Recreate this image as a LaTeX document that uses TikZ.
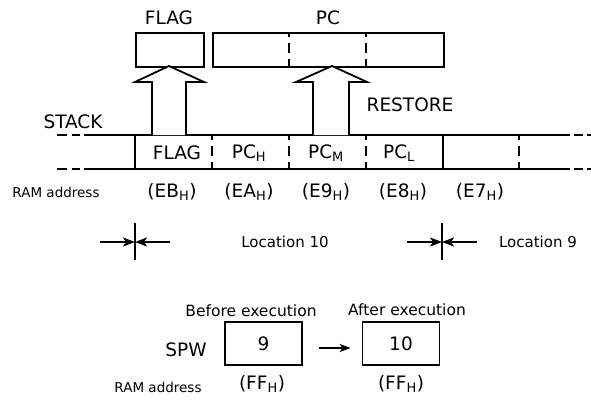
\documentclass[tikz,border=0pt]{standalone}
\usepackage{fontspec}
\setmainfont{DejaVu Sans}
\usetikzlibrary{arrows.meta}
\begin{document}
\begin{tikzpicture}[x=1pt,y=-1pt, line width=1.8pt,
  big/.style={font=\fontsize{18.5}{18.5}\selectfont, inner sep=0pt},
  small/.style={font=\fontsize{15}{15}\selectfont, inner sep=0pt},
  reg/.style={draw, minimum height=34pt, inner sep=0pt, anchor=north west},
  spbox/.style={draw, minimum width=77pt, minimum height=43pt, inner sep=0pt, font=\fontsize{18.5}{18.5}\selectfont},
  dsh/.style={dash pattern=on 5pt off 6pt on 10pt off 6pt on 7pt},
  tip/.style={-{Stealth[length=12pt,width=9pt,inset=3pt]}},
  hollow/.style={fill=white, line join=miter}]
\useasboundingbox (0,0) rectangle (591,399);

% registers
\node[big] (flaglbl) at (169,18) {FLAG};
\node[big] (pclbl) at (328,18) {PC};
\node[reg, minimum width=68pt] (flagreg) at (135,32) {};
\node[reg, minimum width=231pt] (pcreg) at (212,32) {};
\draw[dsh] (289,32) -- (289,66);
\draw[dsh] (366,32) -- (366,66);

% stack
\node[big] (stack) at (73,122) {STACK};
\draw (84,135) -- (570,135);
\draw (84,169) -- (570,169);
\draw (57,135) -- (67,135) (72,135) -- (80,135);
\draw (57,169) -- (67,169) (72,169) -- (80,169);
\draw (574,135) -- (583,135) (587,135) -- (591,135);
\draw (574,169) -- (583,169) (587,169) -- (591,169);
\draw (135,135) -- (135,169);
\draw (443,135) -- (443,169);
\foreach \x in {212,289,366,519} \draw[dsh] (\x,135) -- (\x,169);

\node[big] (cflag) at (177,153) {FLAG};
\node[big] (cpch) at (249,153) {PC\textsubscript{H}};
\node[big] (cpcm) at (326,153) {PC\textsubscript{M}};
\node[big] (cpcl) at (399,153) {PC\textsubscript{L}};

% hollow arrows
\draw[hollow] (152,135) -- (152,82) -- (135,82) -- (169,66) -- (204,82) -- (186,82) -- (186,135);
\draw[hollow] (313,135) -- (313,82) -- (296,82) -- (332,66) -- (367,82) -- (349,82) -- (349,135);
\node[big] (restore) at (410,105) {RESTORE};

% RAM addresses
\node[small, font=\fontsize{13.5}{13.5}\selectfont] (ram1) at (56,192) {RAM address};
\node[big] (aeb) at (172,192) {(EB\textsubscript{H})};
\node[big] (aea) at (249,192) {(EA\textsubscript{H})};
\node[big] (ae9) at (326,192) {(E9\textsubscript{H})};
\node[big] (ae8) at (403,192) {(E8\textsubscript{H})};
\node[big] (ae7) at (480,192) {(E7\textsubscript{H})};

% location markers
\coordinate (m10) at (135,242);
\coordinate (m10t) at (135,223);
\coordinate (m10b) at (135,260);
\coordinate (m10l) at (100,242);
\coordinate (m10r) at (170,242);
\draw (m10t) -- (m10b);
\draw[tip] (m10l) -- (m10);
\draw[tip] (m10r) -- (m10);
\node[small] (loc10) at (285,242) {Location 10};

\coordinate (m9) at (442,242);
\coordinate (m9t) at (442,223);
\coordinate (m9b) at (442,260);
\coordinate (m9l) at (407,242);
\coordinate (m9r) at (477,242);
\draw (m9t) -- (m9b);
\draw[tip] (m9l) -- (m9);
\draw[tip] (m9r) -- (m9);
\node[small] (loc9) at (538,242) {Location 9};

% SPW
\node[small, font=\fontsize{15.5}{15.5}\selectfont] (before) at (251,311) {Before execution};
\node[small, font=\fontsize{15.5}{15.5}\selectfont] (after) at (407,310) {After execution};
\node[spbox] (b9) at (263.5,343.5) {9};
\node[spbox] (b10) at (401,343.5) {10};
\node[big] (spw) at (186,350) {SPW};
\draw[-{Stealth[length=11pt,width=8pt,inset=3pt]}] ([xshift=16pt,yshift=-4.5pt]b9.east) -- ([xshift=-11pt,yshift=-4.5pt]b10.west);
\node[small, font=\fontsize{13.5}{13.5}\selectfont] (ram2) at (158,387) {RAM address};
\node[big] (ff1) at (262,384) {(FF\textsubscript{H})};
\node[big] (ff2) at (401,384) {(FF\textsubscript{H})};
\end{tikzpicture}
\end{document}
